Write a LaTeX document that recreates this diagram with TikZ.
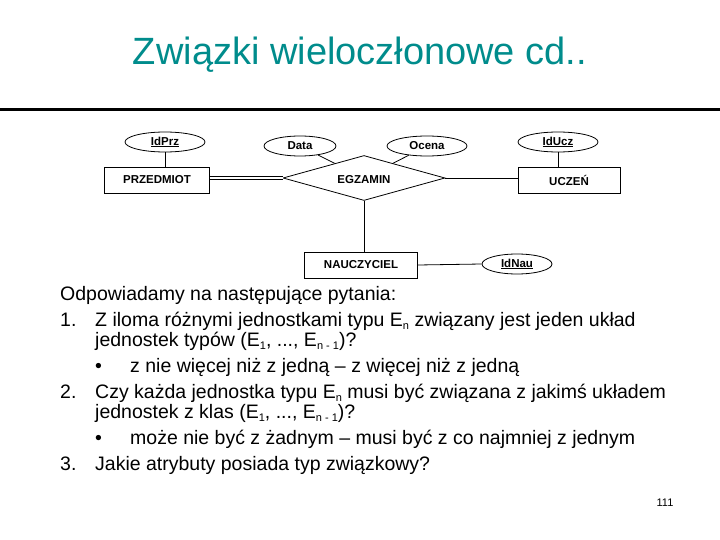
\documentclass[tikz,border=0pt]{standalone}
\usepackage{fontspec}
\setmainfont{Liberation Sans}
\usetikzlibrary{shapes.geometric}
\definecolor{teal1}{RGB}{0,140,140}
\newcommand{\sbs}[1]{\raisebox{-0.35ex}{\fontsize{11}{12}\selectfont #1}}
\begin{document}
\begin{tikzpicture}[x=1pt,y=-1pt,
  ent/.style={draw,thick,minimum width=#1,minimum height=26pt,inner sep=0pt,font=\fontsize{11.5}{12}\selectfont\bfseries},
  attr/.style={draw,thick,ellipse,minimum width=#1,minimum height=20pt,inner sep=0pt,font=\fontsize{11.5}{12}\selectfont\bfseries},
  txt/.style={anchor=base west,font=\fontsize{19.5}{22}\selectfont,inner sep=0pt}]
\useasboundingbox (0,0) rectangle (720,540);
\node[text=teal1,font=\fontsize{38}{42}\selectfont] (title) at (360,55) {Związki wieloczłonowe cd..};
\draw[line width=3pt] (0,110) -- (720,110);
\node[ent=105pt] (prz) at (157,180) {PRZEDMIOT};
\node[ent=102pt] (ucz) at (569,180) {UCZEŃ};
\node[ent=113pt] (nau) at (361,265) {NAUCZYCIEL};
\node[draw,thick,diamond,aspect=3.6,minimum width=162pt,minimum height=45pt,inner sep=0pt] (egz) at (364,178) {};
\node[font=\fontsize{11.5}{12}\selectfont\bfseries] (egzl) at (364,180) {EGZAMIN};
\node[attr=80pt] (idprz) at (165,142) {\underline{IdPrz}};
\node[attr=72pt] (data) at (300,146) {Data};
\node[attr=80pt] (ocena) at (427,146) {Ocena};
\node[attr=80pt] (iducz) at (558,142) {\underline{IdUcz}};
\node[attr=70pt] (idnau) at (517,264) {\underline{IdNau}};
\draw[thick] (idprz) -- (idprz|-prz.north);
\draw[thick] (iducz) -- (iducz|-ucz.north);
\draw[thick] (data) -- (egz);
\draw[thick] (ocena) -- (egz);
\draw[thick,double,double distance=1.5pt] (prz.east|-egz.west) -- (egz.west);
\draw[thick] (egz.east) -- (ucz.west|-egz.east);
\draw[thick] (egz.south) -- (egz.south|-nau.north);
\draw[thick] (nau.east) -- (idnau.west);
\node[txt] (l0) at (60,300) {Odpowiadamy na następujące pytania:};
\node[txt] (n1) at (60,326) {1.};
\node[txt] (l1) at (95,326) {Z iloma różnymi jednostkami typu E\sbs{n} związany jest jeden układ};
\node[txt] (l2) at (95,346) {jednostek typów (E\sbs{1}, ..., E\sbs{n - 1})?};
\node[txt] (b1) at (95,372) {•};
\node[txt] (l3) at (130,372) {z nie więcej niż z jedną – z więcej niż z jedną};
\node[txt] (n2) at (60,398) {2.};
\node[txt] (l4) at (95,398) {Czy każda jednostka typu E\sbs{n} musi być związana z jakimś układem};
\node[txt] (l5) at (95,418) {jednostek z klas (E\sbs{1}, ..., E\sbs{n - 1})?};
\node[txt] (b2) at (95,444) {•};
\node[txt] (l6) at (130,444) {może nie być z żadnym – musi być z co najmniej z jednym};
\node[txt] (n3) at (60,470) {3.};
\node[txt] (l7) at (95,470) {Jakie atrybuty posiada typ związkowy?};
\node[font=\fontsize{11}{12}\selectfont] (pg) at (665,503) {111};
\end{tikzpicture}
\end{document}
